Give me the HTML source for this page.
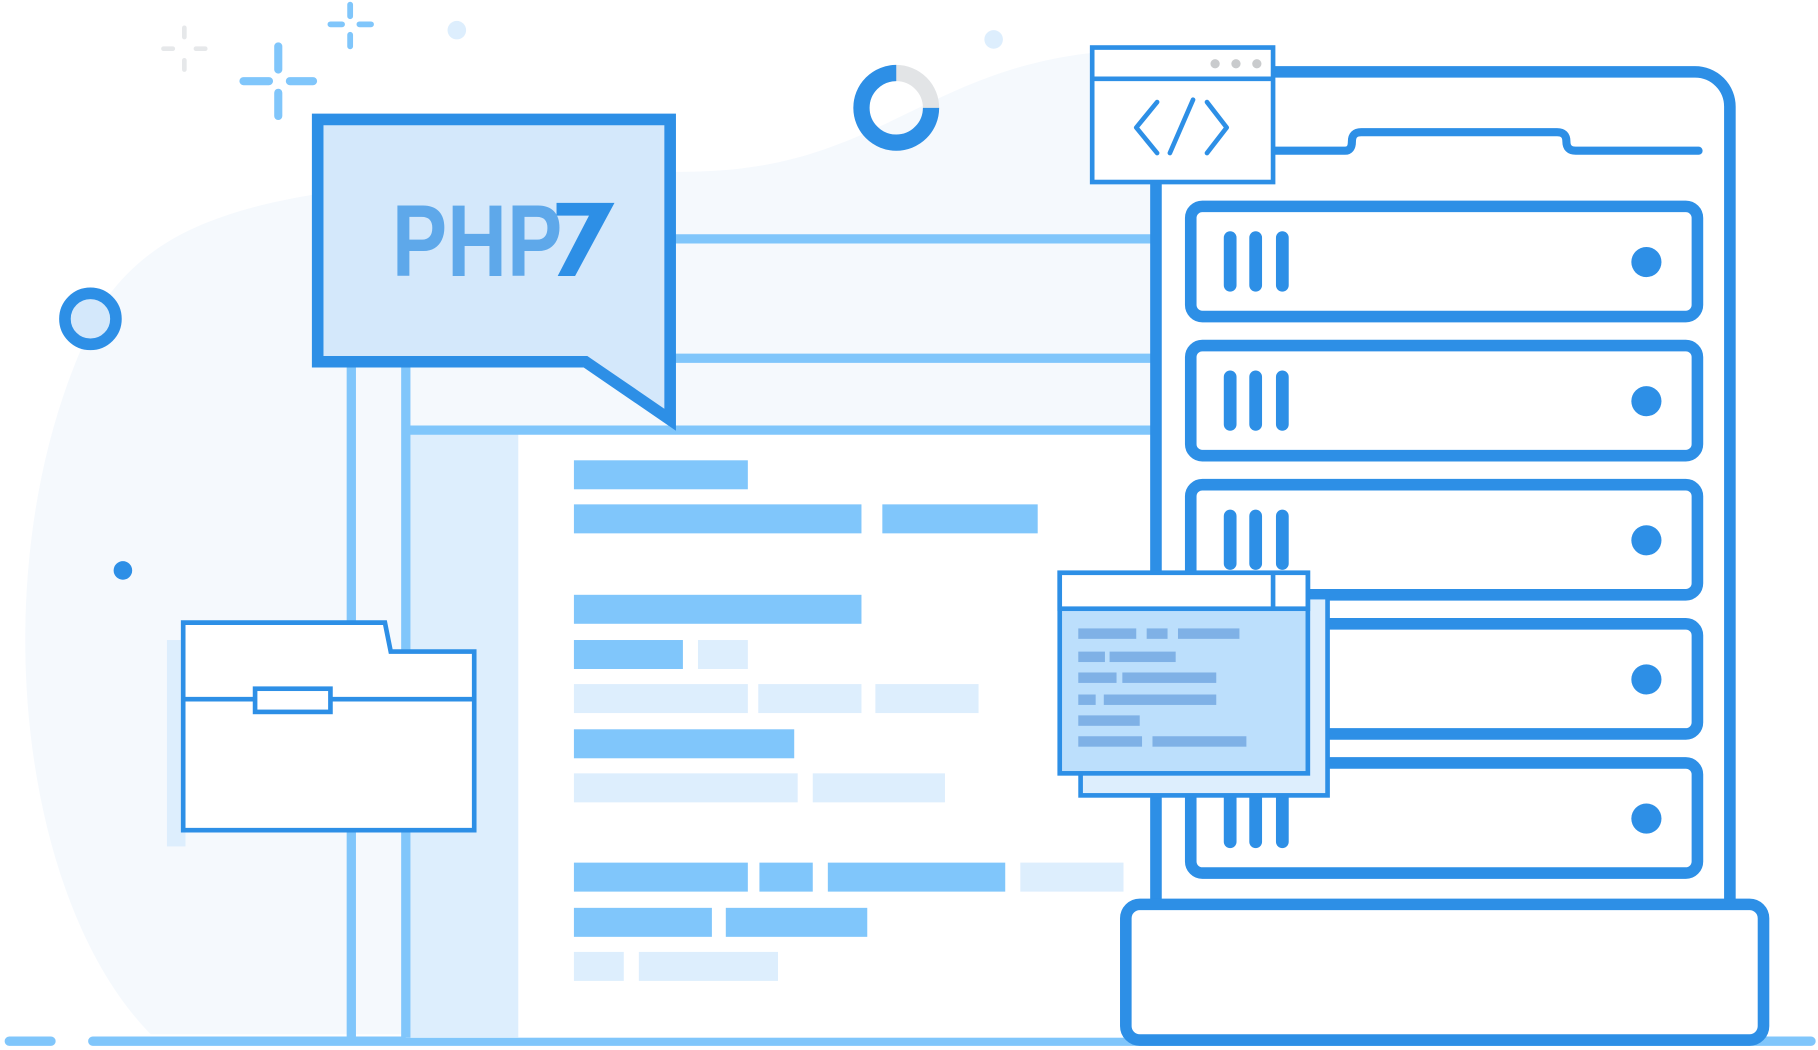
<!DOCTYPE html>
<html><head><meta charset="utf-8"><style>html,body{margin:0;padding:0;background:#fff}svg{display:block}</style></head>
<body>
<svg width="1818" height="1050" viewBox="0 0 1568 905.6" preserveAspectRatio="none" xmlns="http://www.w3.org/2000/svg">
<rect width="1568" height="906" fill="#fff"/>
<path d="M130,892 C10,770 -20,460 90,260 C150,175 260,152 600,148 C760,145 800,55 960,44 L1000,44 L1000,892 Z" fill="#f5f9fd"/>
<!-- sparkles -->
<g stroke="#e6e8ea" stroke-width="4" stroke-linecap="round"><path d="M159,24v8M159,52v8M141,42h8M169,42h8"/></g>
<g stroke="#80c6fb" stroke-width="5" stroke-linecap="round"><path d="M302,4v10M302,30v10M285,21h10M310,21h10"/></g>
<g stroke="#80c6fb" stroke-width="7" stroke-linecap="round"><path d="M240,40v20M240,80v20M210,70h22M250,70h20"/></g>
<circle cx="394" cy="26" r="8" fill="#ddeefd"/>
<circle cx="857" cy="34" r="8" fill="#ddeefd"/>
<circle cx="78" cy="275" r="22" fill="#d4e8fb" stroke="#2d8fe6" stroke-width="10"/>
<circle cx="106" cy="492" r="8" fill="#2d8fe6"/>
<!-- donut -->
<circle cx="773" cy="93" r="30" fill="none" stroke="#e2e4e6" stroke-width="14"/>
<path d="M803,93 A30,30 0 1 1 773,63" fill="none" stroke="#2d8fe6" stroke-width="14"/>
<!-- baseline -->
<g stroke="#80c6fb" stroke-width="8" stroke-linecap="round"><path d="M8,898H44M80,898H1562"/></g>
<!-- main panel -->
<rect x="350" y="371" width="650" height="524" fill="#fff"/>
<rect x="350" y="371" width="97" height="524" fill="#ddeefd"/>
<g stroke="#80c6fb" stroke-width="8"><path d="M303,310V895M350,310V895M350,371H997M580,206H997M580,309H997"/></g>
<!-- code bars -->
<g fill="#80c6fb">
<rect x="495" y="397" width="150" height="25"/><rect x="495" y="435" width="248" height="25"/><rect x="761" y="435" width="134" height="25"/>
<rect x="495" y="513" width="248" height="25"/><rect x="495" y="552" width="94" height="25"/>
<rect x="495" y="629" width="190" height="25"/>
<rect x="495" y="744" width="150" height="25"/><rect x="655" y="744" width="46" height="25"/><rect x="714" y="744" width="153" height="25"/>
<rect x="495" y="783" width="119" height="25"/><rect x="626" y="783" width="122" height="25"/>
</g>
<g fill="#ddeefd">
<rect x="602" y="552" width="43" height="25"/>
<rect x="495" y="590" width="150" height="25"/><rect x="654" y="590" width="89" height="25"/><rect x="755" y="590" width="89" height="25"/>
<rect x="495" y="667" width="193" height="25"/><rect x="701" y="667" width="114" height="25"/>
<rect x="880" y="744" width="89" height="25"/>
<rect x="495" y="821" width="43" height="25"/><rect x="551" y="821" width="120" height="25"/>
</g>
<!-- PHP bubble -->
<path d="M274,103H578V362L505,312H274Z" fill="#d4e8fb" stroke="#2d8fe6" stroke-width="10"/>
<path d="M480,175H530L496,238H481L508,186H480Z" fill="#2d8fe6"/>
<text x="338" y="238" textLength="147" lengthAdjust="spacingAndGlyphs" font-family="Liberation Sans, sans-serif" font-weight="bold" font-size="88" fill="#5ea8ea">PHP</text>
<!-- folder -->
<rect x="144" y="552" width="16" height="178" fill="#ddeefd"/>
<path d="M158,537H332L337,562H409V716H158Z" fill="#fff" stroke="#2d8fe6" stroke-width="4"/>
<path d="M158,603H409" stroke="#2d8fe6" stroke-width="4"/>
<rect x="220" y="594" width="65" height="20" fill="#fff" stroke="#2d8fe6" stroke-width="4"/>
<!-- server frame -->
<g fill="none" stroke="#2d8fe6" stroke-width="10" stroke-linecap="round">
<path d="M1097,62H1462A30,30 0 0 1 1492,92V780"/>
<path d="M997,155V780"/>
<path d="M1099,130H1160Q1166,130 1166,122Q1166,114 1174,114H1343Q1351,114 1351,122Q1351,130 1359,130H1465" stroke-width="7"/>
</g>
<g fill="#fff" stroke="#2d8fe6" stroke-width="10">
<rect x="1027" y="178" width="437" height="95" rx="10"/>
<rect x="1027" y="298" width="437" height="95" rx="10"/>
<rect x="1027" y="418" width="437" height="95" rx="10"/>
<rect x="1027" y="538" width="437" height="95" rx="10"/>
<rect x="1027" y="658" width="437" height="95" rx="10"/>
</g>
<g stroke="#2d8fe6" stroke-width="11" stroke-linecap="round">
<path d="M1061,205V246M1083,205V246M1106,205V246"/>
<path d="M1061,325V366M1083,325V366M1106,325V366"/>
<path d="M1061,445V486M1083,445V486M1106,445V486"/>
<path d="M1061,685V726M1083,685V726M1106,685V726"/>
</g>
<g fill="#2d8fe6">
<circle cx="1420" cy="226" r="13"/><circle cx="1420" cy="346" r="13"/><circle cx="1420" cy="466" r="13"/><circle cx="1420" cy="586" r="13"/><circle cx="1420" cy="706" r="13"/>
</g>
<rect x="971" y="780" width="550" height="117" rx="12" fill="#fff" stroke="#2d8fe6" stroke-width="10"/>
<!-- code window -->
<rect x="942" y="41" width="156" height="116" fill="#fff" stroke="#2d8fe6" stroke-width="4"/>
<path d="M942,68H1098" stroke="#2d8fe6" stroke-width="4"/>
<g fill="#c9cbcd"><circle cx="1048" cy="55" r="4"/><circle cx="1066" cy="55" r="4"/><circle cx="1084" cy="55" r="4"/></g>
<g fill="none" stroke="#2d8fe6" stroke-width="4" stroke-linecap="round" stroke-linejoin="round">
<path d="M998,88L980,110L998,132"/><path d="M1041,88L1058,110L1041,132"/><path d="M1029,86L1009,132"/>
</g>
<!-- small windows -->
<rect x="932" y="515" width="213" height="171" fill="#ddeefd" stroke="#2d8fe6" stroke-width="4"/>
<rect x="914" y="494" width="214" height="173" fill="#bcdffc" stroke="#2d8fe6" stroke-width="4"/>
<rect x="914" y="494" width="214" height="31" fill="#fff" stroke="#2d8fe6" stroke-width="4"/>
<path d="M1098,494V525" stroke="#2d8fe6" stroke-width="4"/>
<g fill="#7fb1e6">
<rect x="930" y="542" width="50" height="9"/><rect x="989" y="542" width="18" height="9"/><rect x="1016" y="542" width="53" height="9"/>
<rect x="930" y="562" width="23" height="9"/><rect x="957" y="562" width="57" height="9"/>
<rect x="930" y="580" width="33" height="9"/><rect x="968" y="580" width="81" height="9"/>
<rect x="930" y="599" width="15" height="9"/><rect x="952" y="599" width="97" height="9"/>
<rect x="930" y="617" width="53" height="9"/>
<rect x="930" y="635" width="55" height="9"/><rect x="994" y="635" width="81" height="9"/>
</g>
</svg>
</body></html>
